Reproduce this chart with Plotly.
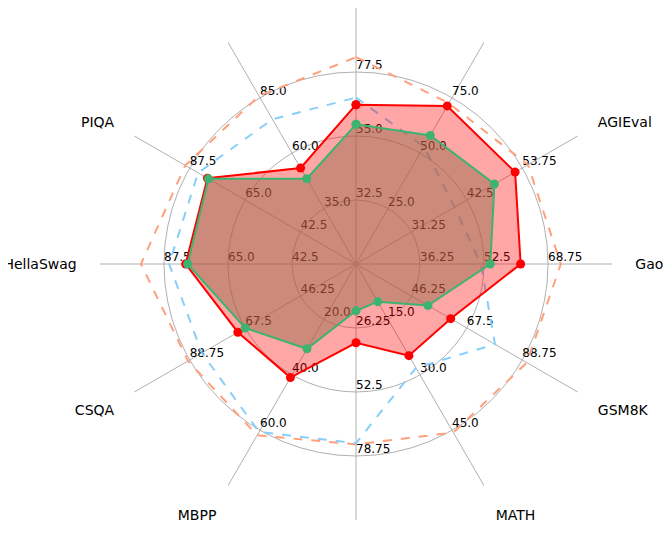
import plotly.graph_objects as go

angles = [0, 30, 60, 90, 120, 150, 180, 210, 240, 270, 300, 330]
category_labels = ["", "", "AGIEval", "Gaokao", "GSM8K", "MATH", "", "MBPP", "CSQA", "HellaSwag", "PIQA", ""]
tick_labels = [
    ["32.5", "55.0", "77.5"],
    ["25.0", "50.0", "75.0"],
    ["31.25", "42.5", "53.75"],
    ["36.25", "52.5", "68.75"],
    ["46.25", "67.5", "88.75"],
    ["15.0", "30.0", "45.0"],
    ["26.25", "52.5", "78.75"],
    ["20.0", "40.0", "60.0"],
    ["46.25", "67.5", "88.75"],
    ["42.5", "65.0", "87.5"],
    ["42.5", "65.0", "87.5"],
    ["35.0", "60.0", "85.0"],
]
orange_vals = [82.7, 72.5, 54.9, 72.0, 90.5, 45.6, 74.0, 61.8, 89.4, 95.6, 89.3, 85.8]
blue_vals = [68.5, 53.0, 40.0, 51.7, 78.3, 28.1, 73.5, 60.6, 84.1, 85.7, 84.1, 75.3]
red_vals = [66.0, 71.3, 52.3, 61.8, 61.3, 24.8, 32.3, 41.0, 70.3, 79.9, 80.3, 53.3]
green_vals = [59.1, 58.0, 48.1, 54.1, 52.6, 10.2, 19.2, 30.6, 67.5, 79.2, 79.9, 48.5]

# per-axis scale derived from tick labels: ring k (1..3) shows tick k
def norm(vals):
    out = []
    for v, t in zip(vals, tick_labels):
        t1, t2 = float(t[0]), float(t[1])
        step = t2 - t1
        lo = t1 - step
        out.append((v - lo) / step)
    return out

def closed(a):
    return list(a) + [a[0]]

fig = go.Figure()
for k in range(3):
    fig.add_trace(go.Scatterpolar(
        r=[k + 1] * len(angles), theta=angles, mode="text",
        text=[t[k] for t in tick_labels], textposition="top right",
        textfont=dict(family="DejaVu Sans", size=12, color="black"),
        showlegend=False, hoverinfo="skip"))

fig.add_trace(go.Scatterpolar(r=closed(norm(orange_vals)), theta=closed(angles), mode="lines",
    line=dict(color="#ffa07a", width=2, dash="dash"), showlegend=False))
fig.add_trace(go.Scatterpolar(r=closed(norm(blue_vals)), theta=closed(angles), mode="lines",
    line=dict(color="#87cefa", width=2, dash="dash"), showlegend=False))
fig.add_trace(go.Scatterpolar(r=closed(norm(red_vals)), theta=closed(angles), mode="lines+markers",
    line=dict(color="#ff0000", width=2), marker=dict(size=9, color="#ff0000"),
    fill="toself", fillcolor="rgba(255,0,0,0.35)", showlegend=False))
fig.add_trace(go.Scatterpolar(r=closed(norm(green_vals)), theta=closed(angles), mode="lines+markers",
    line=dict(color="#3cb371", width=2), marker=dict(size=9, color="#3cb371"),
    fill="toself", fillcolor="rgba(153,112,78,0.5)", showlegend=False))

fig.update_layout(
    width=671, height=538, margin=dict(l=0, r=0, t=0, b=0),
    paper_bgcolor="white", plot_bgcolor="white",
    font=dict(family="DejaVu Sans", size=13, color="black"),
    polar=dict(
        domain=dict(x=[88/671, 608/671], y=[26/538, 1]),
        bgcolor="rgba(0,0,0,0)",
        radialaxis=dict(range=[0, 4], tickvals=[1, 2, 3], showticklabels=False,
                        showline=False, ticks="", gridcolor="#b0b0b0", gridwidth=1),
        angularaxis=dict(direction="clockwise", rotation=90, tickmode="array",
                         tickvals=angles, ticktext=category_labels, showline=False,
                         gridcolor="#b0b0b0", gridwidth=1, ticks="outside", ticklen=20,
                         tickcolor="rgba(0,0,0,0)", tickfont=dict(size=14)),
    ),
)
fig.write_html("out.html")
